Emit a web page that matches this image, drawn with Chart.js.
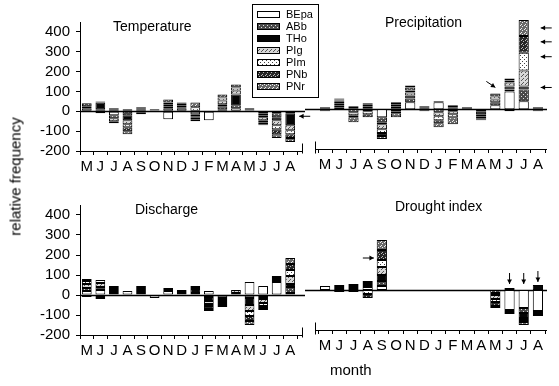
<!DOCTYPE html>
<html>
<head>
<meta charset="utf-8">
<script src="https://cdn.jsdelivr.net/npm/chart.js@4"></script>
<style>
  body { margin: 0; background: #fff; width: 559px; height: 386px; overflow: hidden; position: relative; font-family: "Liberation Sans", Arial, sans-serif; color: #000; }
  canvas { position: absolute; }
  .t { position: absolute; font-size: 14px; white-space: nowrap; }
  #legend { position: absolute; left: 252px; top: 4px; width: 67px; height: 94px; box-sizing: border-box; border: 1.5px solid #000; background: #fff; padding: 3px 0 0 4px; z-index: 5; }
  #legend div { height: 12px; line-height: 12px; font-size: 11px; display: flex; align-items: center; }
  #legend canvas { position: static; margin-right: 6px; }
</style>
</head>
<body>
<canvas id="cTemp" width="320" height="185" style="left:0;top:0"></canvas>
<canvas id="cPrec" width="254" height="185" style="left:305px;top:0"></canvas>
<canvas id="cDisc" width="320" height="180" style="left:0;top:185px"></canvas>
<canvas id="cDrou" width="254" height="180" style="left:305px;top:185px"></canvas>

<div class="t" style="left:113px;top:18px">Temperature</div>
<div class="t" style="left:385px;top:14px">Precipitation</div>
<div class="t" style="left:135px;top:201px">Discharge</div>
<div class="t" style="left:395px;top:198px">Drought index</div>
<div class="t" style="font-size:15px;left:-85px;top:168px;width:200px;text-align:center;transform:rotate(-90deg)">relative frequency</div>
<div class="t" style="font-size:15px;left:330px;top:361px">month</div>
<div id="legend"></div>

<script>
const months = ['M','J','J','A','S','O','N','D','J','F','M','A','M','J','J','A'];
const species = ['BEpa','ABb','THo','PIg','PIm','PNb','PNr'];
const yTicks = [-200, -100, 0, 100, 200, 300, 400];

// one row per species, in the order of `species`
const temperature = [
  [0, 0, -20, 10, 0, 5, -40, 0, -15, -45, 10, 15, 5, -10, -10, 0],
  [15, 10, -15, -20, 10, 5, 15, 15, -10, 0, 15, 15, 5, -10, -20, -10],
  [0, 35, 0, -25, 5, 0, 10, 5, -5, 0, 10, 55, 0, -10, -15, -60],
  [10, 0, -15, -20, -5, 0, 10, 10, -10, 0, 20, 20, 5, -15, -25, -25],
  [0, -10, 10, -15, 5, 0, 10, 0, 20, 0, 15, 15, 0, -10, -20, -20],
  [15, 5, -10, -20, -10, 0, 15, 10, -10, 0, 15, 15, 0, -10, -25, -20],
  [0, 0, 5, -15, 0, 0, 0, 5, 25, 0, 0, 0, 0, -5, -20, -20]
];
const precipitation = [
  [5, 10, 0, 5, -40, 5, 35, 5, 35, 5, 5, 0, 20, 90, 40, 5],
  [-5, 10, -15, -10, -25, -10, 20, -5, -15, -10, 0, -10, 15, 10, 60, -5],
  [0, 10, 5, 10, -10, 10, 15, 0, 5, 5, 5, -15, 0, 15, 15, -5],
  [5, 10, -15, 10, -25, -10, 15, 5, -20, -15, 0, -10, 15, 20, 80, 5],
  [-5, 5, -10, -15, -20, 10, 10, -5, -20, -15, 0, -10, 15, 10, 90, 0],
  [0, 5, 10, -15, -15, 10, 15, 5, -15, 10, 0, -5, 15, 10, 85, 0],
  [0, 5, -25, 5, -15, -20, 10, 0, -20, -35, 0, -5, 0, -10, 80, 0]
];
const discharge = [
  [20, 25, 10, 20, 10, -15, 20, 0, 10, 20, 0, 0, 65, 45, 65, 10],
  [15, 15, 10, 0, 10, 0, 5, 10, 0, -10, -15, 10, -15, -10, 10, 30],
  [0, 0, 0, 0, 0, 0, 5, 10, 20, -20, -10, 0, -35, -10, 10, 15],
  [20, 20, 10, 0, 10, 0, 0, 5, 10, -15, -10, 15, -30, -20, 0, 40],
  [15, 15, 5, 0, 10, 0, 5, 0, 5, -10, -10, 0, -25, -15, 10, 30],
  [10, -10, 10, 0, 5, 0, 0, -5, 0, -15, -10, 0, -25, -10, 0, 30],
  [-10, -10, -5, 0, 0, 0, 0, 0, 0, -10, -5, 0, -20, -10, 0, 30]
];
const drought = [
  [20, 10, 10, 15, 20, 0, 0, 0, 0, 0, 0, 0, 0, -100, -90, -105],
  [0, 5, 10, 10, 25, 0, 0, 0, 0, 0, 0, 0, -15, -5, -25, -10],
  [0, 0, 0, 0, 30, 0, 0, 0, 0, 0, 0, 0, -10, 0, -25, 25],
  [0, 10, -10, 10, 40, 0, 0, 0, 0, 0, 0, 0, -20, 10, -10, -5],
  [0, -10, 10, -20, 35, 0, 0, 0, 0, 0, 0, 0, -15, -5, -10, -5],
  [0, 0, 0, -20, 50, 0, 0, 0, 0, 0, 0, 0, -20, -5, 0, -5],
  [0, 0, 0, 10, 50, 0, 0, 0, 0, 0, 0, 0, -10, -5, -15, 0]
];

// hatch-like fills for the species
function pattern(bg, fg, dots, size) {
  const c = document.createElement('canvas');
  c.width = size; c.height = size;
  const g = c.getContext('2d');
  g.fillStyle = bg; g.fillRect(0, 0, size, size);
  g.fillStyle = fg;
  dots.forEach(d => g.fillRect(d[0], d[1], 1, 1));
  return g.createPattern(c, 'repeat');
}
const fills = [
  '#ffffff',
  pattern('#4a4a4a', '#e0e0e0', [[0,0],[2,2]], 4),
  '#050505',
  pattern('#d8d8d8', '#555', [[0,0],[2,2],[1,3]], 4),
  pattern('#ffffff', '#444', [[1,1],[3,3]], 4),
  pattern('#262626', '#bbb', [[0,0],[2,1],[1,3]], 4),
  pattern('#6a6a6a', '#f0f0f0', [[0,0],[1,2],[3,1]], 4)
];

// legend
const legend = document.getElementById('legend');
species.forEach((s, i) => {
  const row = document.createElement('div');
  const sw = document.createElement('canvas');
  sw.width = 23; sw.height = 7;
  const g = sw.getContext('2d');
  g.fillStyle = fills[i]; g.fillRect(0, 0, 23, 7);
  g.strokeStyle = '#000'; g.lineWidth = 1; g.strokeRect(0.5, 0.5, 22, 6);
  row.appendChild(sw);
  row.appendChild(document.createTextNode(s));
  legend.appendChild(row);
});

function arrow(ctx, x1, y1, x2, y2) {
  const a = Math.atan2(y2 - y1, x2 - x1);
  ctx.beginPath(); ctx.moveTo(x1, y1); ctx.lineTo(x2, y2); ctx.stroke();
  ctx.beginPath();
  ctx.moveTo(x2, y2);
  ctx.lineTo(x2 - 5 * Math.cos(a - 0.5), y2 - 5 * Math.sin(a - 0.5));
  ctx.lineTo(x2 - 5 * Math.cos(a + 0.5), y2 - 5 * Math.sin(a + 0.5));
  ctx.closePath(); ctx.fill();
}

// zero line, axis breaks and the arrows of the original figure
const deco = {
  id: 'deco',
  beforeDatasetsDraw(chart, args, o) {
    const ctx = chart.ctx, a = chart.chartArea, y = chart.scales.y;
    const y0 = Math.round(y.getPixelForValue(0)) + 0.5;
    ctx.save();
    ctx.strokeStyle = '#000'; ctx.lineWidth = 1.3;
    ctx.beginPath();
    if (o.side === 'left') { ctx.moveTo(a.left, y0); ctx.lineTo(305, y0); }
    else { ctx.moveTo(0, y0); ctx.lineTo(a.right + 2, y0); }
    ctx.stroke();
    ctx.restore();
  },
  afterDraw(chart, args, o) {
    const ctx = chart.ctx, a = chart.chartArea, x = chart.scales.x, y = chart.scales.y;
    const b = Math.round(a.bottom) + 0.5;
    ctx.save();
    ctx.strokeStyle = '#000'; ctx.fillStyle = '#000'; ctx.lineWidth = 1;
    ctx.beginPath();
    if (o.side === 'left') {
      ctx.moveTo(a.right, b); ctx.lineTo(303, b);
      ctx.moveTo(302.5, b - 8); ctx.lineTo(302.5, b + 2);
    } else {
      ctx.moveTo(10.5, b); ctx.lineTo(a.right + 2, b);
      ctx.moveTo(10.5, b - 8); ctx.lineTo(10.5, b + 4);
    }
    ctx.stroke();
    (o.arrows || []).forEach(r => {
      const cx = x.getPixelForValue(r.i), py = y.getPixelForValue(r.v);
      if (r.dir === 'left') arrow(ctx, cx + r.d + 11, py, cx + r.d, py);
      if (r.dir === 'right') arrow(ctx, cx - r.d - 11, py, cx - r.d, py);
      if (r.dir === 'down') arrow(ctx, cx, py - r.d - 11, cx, py - r.d);
      if (r.dir === 'diag') arrow(ctx, cx - 9, py - 12, cx, py - 6);
    });
    ctx.restore();
  }
};

const font = { family: '"Liberation Sans", Arial, sans-serif', size: 15 };

function makeChart(id, rows, cfg) {
  const showY = cfg.side === 'left';
  return new Chart(document.getElementById(id), {
    type: 'bar',
    data: {
      labels: months,
      datasets: species.map((s, i) => ({
        label: s,
        data: rows[i].map(v => v === 0 ? null : v),
        backgroundColor: fills[i],
        borderColor: '#000',
        borderWidth: 1,
        borderSkipped: false,
        barPercentage: 0.72,
        categoryPercentage: 1
      }))
    },
    options: {
      responsive: false,
      animation: false,
      devicePixelRatio: 1,
      layout: { padding: { top: cfg.top, left: cfg.left, right: cfg.right, bottom: 0 } },
      plugins: {
        legend: { display: false },
        tooltip: { enabled: false },
        deco: { side: cfg.side, arrows: cfg.arrows }
      },
      scales: {
        x: {
          stacked: true,
          grid: { drawOnChartArea: false, tickLength: 4, color: '#000' },
          border: { color: '#000', width: 1 },
          ticks: { font: font, color: '#000', padding: 3, maxRotation: 0, autoSkip: false },
          afterFit: s => { s.height = cfg.xh; }
        },
        y: {
          stacked: true,
          display: showY,
          min: -200, max: 450,
          grid: { drawOnChartArea: false, tickLength: 4, color: '#000' },
          border: { color: '#000', width: 1 },
          ticks: { font: font, color: '#000', padding: 6 },
          afterBuildTicks: s => { s.ticks = yTicks.map(v => ({ value: v })); },
          afterFit: s => { s.width = showY ? 80 : 0; }
        }
      }
    },
    plugins: [deco]
  });
}

makeChart('cTemp', temperature, { side: 'left', top: 22, left: 0, right: 23, xh: 34,
  arrows: [{ i: 15, v: -25, dir: 'left', d: 9 }] });
makeChart('cPrec', precipitation, { side: 'right', top: 20, left: 13, right: 14, xh: 36,
  arrows: [
    { i: 14, v: 410, dir: 'left', d: 17 }, { i: 14, v: 340, dir: 'left', d: 17 },
    { i: 14, v: 265, dir: 'left', d: 17 }, { i: 14, v: 110, dir: 'left', d: 17 },
    { i: 12, v: 80, dir: 'diag' }
  ] });
makeChart('cDisc', discharge, { side: 'left', top: 20, left: 0, right: 23, xh: 30 });
makeChart('cDrou', drought, { side: 'right', top: 15, left: 13, right: 14, xh: 35,
  arrows: [
    { i: 4, v: 160, dir: 'right', d: 8 },
    { i: 13, v: 20, dir: 'down', d: 2 }, { i: 14, v: 20, dir: 'down', d: 2 },
    { i: 15, v: 30, dir: 'down', d: 2 }
  ] });
</script>
</body>
</html>
